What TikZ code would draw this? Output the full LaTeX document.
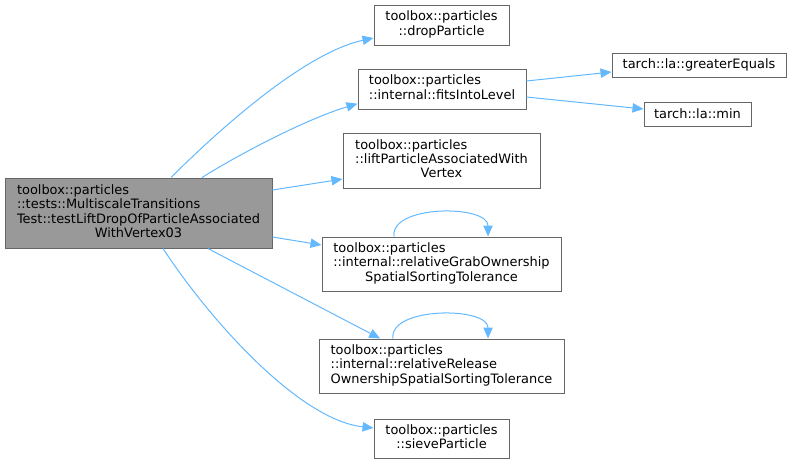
\documentclass[tikz,border=0pt]{standalone}
\usepackage{fontspec}
\setmainfont{DejaVu Sans}
\usepackage{tikz}
\usetikzlibrary{arrows.meta, positioning}
\definecolor{edgeblue}{HTML}{63B8FF}
\definecolor{boxgray}{HTML}{666666}
\definecolor{mainfill}{HTML}{999999}
\newcommand{\lastline}[1]{\multicolumn{1}{@{}c@{}}{#1}}

\begin{document}
\begin{tikzpicture}[x=0.75pt, y=-0.75pt,
	fnbox/.style={draw=boxgray, fill=white, line width=0.75pt, inner sep=0pt,
		font=\fontsize{9.7}{10.75}\selectfont, align=center},
	mainbox/.style={fnbox, fill=mainfill},
	call/.style={draw=edgeblue, line width=0.75pt, -{Triangle[length=8.25pt, width=7pt]}}]
	\useasboundingbox (0,0) rectangle (791,464);
	% caller
	\node[mainbox, minimum width=200.25pt, minimum height=52.5pt] (main) at (138.5,213) {%
		\begin{tabular}{@{}l@{}}toolbox::particles\\::tests::MultiscaleTransitions\\Test::testLiftDropOfParticleAssociated\\\lastline{WithVertex03}\end{tabular}};
	% callees
	\node[fnbox, minimum width=101.25pt, minimum height=30pt] (drop) at (441.5,25) {%
		\begin{tabular}{@{}l@{}}toolbox::particles\\\lastline{::dropParticle}\end{tabular}};
	\node[fnbox, minimum width=126pt, minimum height=30pt] (fits) at (442,89) {%
		\begin{tabular}{@{}l@{}}toolbox::particles\\\lastline{::internal::fitsIntoLevel}\end{tabular}};
	\node[fnbox, minimum width=147.75pt, minimum height=41.25pt] (lift) at (441.5,160.5) {%
		\begin{tabular}{@{}l@{}}toolbox::particles\\::liftParticleAssociatedWith\\\lastline{Vertex}\end{tabular}};
	\node[fnbox, minimum width=179.25pt, minimum height=40.5pt] (grab) at (441.5,264) {%
		\begin{tabular}{@{}l@{}}toolbox::particles\\::internal::relativeGrabOwnership\\\lastline{SpatialSortingTolerance}\end{tabular}};
	\node[fnbox, minimum width=183.75pt, minimum height=40.5pt] (release) at (441.5,366) {%
		\begin{tabular}{@{}l@{}}toolbox::particles\\::internal::relativeRelease\\\lastline{OwnershipSpatialSortingTolerance}\end{tabular}};
	\node[fnbox, minimum width=101.25pt, minimum height=29.25pt] (sieve) at (441.5,438.5) {%
		\begin{tabular}{@{}l@{}}toolbox::particles\\\lastline{::sieveParticle}\end{tabular}};
	\node[fnbox, minimum width=130.5pt, minimum height=18pt] (greq) at (699,65) {tarch::la::greaterEquals};
	\node[fnbox, minimum width=80.25pt, minimum height=18pt] (min) at (697.5,114) {tarch::la::min};

	% calls
	\draw[call] ([xshift=24.4pt]main.north) .. controls +(45,-45) and +(-70,15) .. ([yshift=-9.75pt]drop.west);
	\draw[call] ([xshift=47.6pt]main.north) .. controls +(40,-25) and +(-50,15) .. ([yshift=-11pt]fits.west);
	\draw[call] ([yshift=17.25pt]main.east) -- ([yshift=-13.9pt]lift.west);
	\draw[call] ([yshift=-18pt]main.east) -- ([yshift=14.25pt]grab.west);
	\draw[call] ([xshift=52pt]main.south) -- ([xshift=-46pt]release.north);
	\draw[call] ([xshift=18.4pt]main.south) .. controls +(47,72) and +(-74,-8) .. ([yshift=7.9pt]sieve.west);
	\draw[call] ([yshift=6pt]fits.east) -- ([yshift=-5.25pt]greq.west);
	\draw[call] ([yshift=-6pt]fits.east) -- ([yshift=3.75pt]min.west);
	% recursion
	\draw[call] ([xshift=-35.6pt]grab.north) .. controls +(-4,-32) and +(0,-32) .. ([xshift=34.9pt]grab.north);
	\draw[call] ([xshift=-36.4pt]release.north) .. controls +(-4,-32) and +(0,-32) .. ([xshift=34.9pt]release.north);
\end{tikzpicture}
\end{document}
